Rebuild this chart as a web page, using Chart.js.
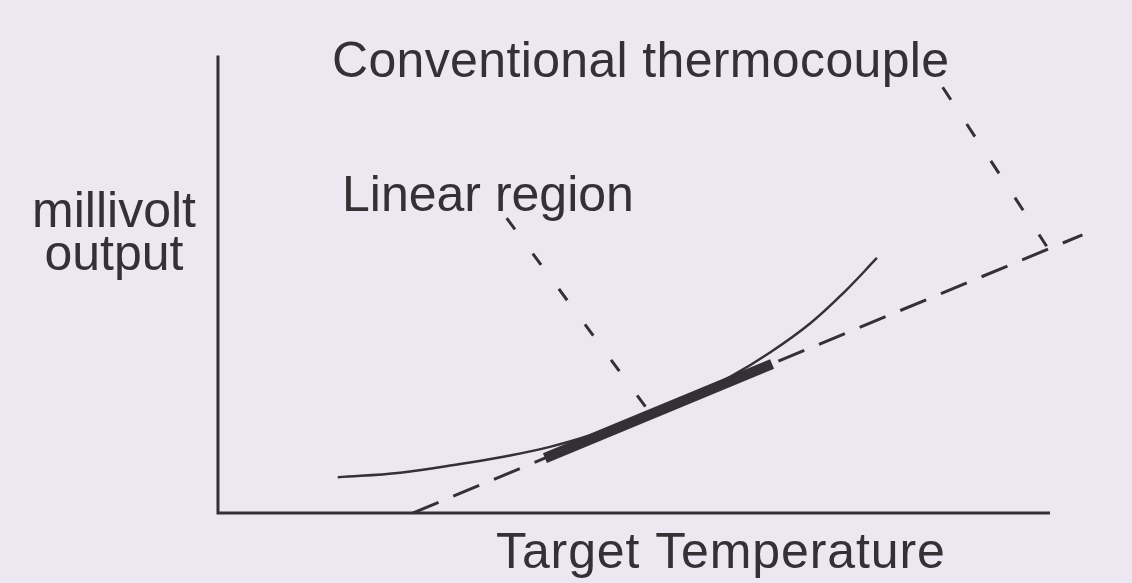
<!DOCTYPE html>
<html>
<head>
<meta charset="utf-8">
<script src="https://cdn.jsdelivr.net/npm/chart.js@4/dist/chart.umd.min.js"></script>
<style>
  html, body { margin: 0; padding: 0; background: #ede7f2; }
  #wrap { position: relative; width: 1132px; height: 583px; }
</style>
</head>
<body>
<div id="wrap"><canvas id="chart"></canvas></div>
<script>
// temperature (x) and millivolt output (y), arbitrary 0-100 units
const axisTemp = [0, 0, 100];
const axisMv = [101, 0, 0];

const curveTemp = [14.4, 21.9, 29.1, 35.1, 39.9, 44.7, 50.7, 56.7, 61.5, 66.4, 71.2, 75.4, 79.2];
const curveMv = [7.9, 8.9, 10.8, 12.7, 14.6, 17.1, 20.9, 25.6, 30.0, 35.5, 41.9, 49.0, 56.3];

const tangentTemp = [23.4, 103.9];
const tangentMv = [0, 61.4];

const linearTemp = [39.3, 66.6];
const linearMv = [12.1, 32.9];

const leaderLinearTemp = [34.7, 51.7];
const leaderLinearMv = [65.1, 22.7];

const leaderConvTemp = [87.1, 99.6];
const leaderConvMv = [94.0, 58.9];

const labelConv = 'Conventional thermocouple';
const labelLinear = 'Linear region';
const labelY = ['millivolt', 'output'];
const labelX = 'Target Temperature';

const ink = '#333135';
const pts = (xs, ys) => xs.map((x, i) => ({ x: x, y: ys[i] }));

const line = (data, opts) => Object.assign({
  data: data,
  showLine: true,
  borderColor: ink,
  borderWidth: 3,
  pointRadius: 0,
  fill: false,
  tension: 0
}, opts);

const textPlugin = {
  id: 'labels',
  afterDraw(chart) {
    const ctx = chart.ctx;
    ctx.save();
    ctx.fillStyle = ink;
    ctx.font = '50px "Liberation Sans", Arial, sans-serif';
    ctx.textBaseline = 'alphabetic';
    ctx.textAlign = 'left';
    ctx.letterSpacing = '0.35px';
    ctx.fillText(labelConv, 332, 77);
    ctx.letterSpacing = '0px';
    ctx.fillText(labelLinear, 342, 211);
    ctx.letterSpacing = '0.9px';
    ctx.fillText(labelX, 496, 568);
    ctx.letterSpacing = '0px';
    ctx.textAlign = 'center';
    ctx.fillText(labelY[0], 114, 227);
    ctx.fillText(labelY[1], 114, 270);
    ctx.restore();
  }
};

new Chart(document.getElementById('chart').getContext('2d'), {
  type: 'scatter',
  data: {
    datasets: [
      line(pts(linearTemp, linearMv), { borderWidth: 10.5, borderCapStyle: 'butt' }),
      line(pts(axisTemp, axisMv), { borderJoinStyle: 'miter' }),
      line(pts(curveTemp, curveMv), { borderWidth: 2.5, tension: 0.4 }),
      line(pts(tangentTemp, tangentMv), { borderDash: [28, 16] }),
      line(pts(leaderLinearTemp, leaderLinearMv), { borderDash: [14, 30] }),
      line(pts(leaderConvTemp, leaderConvMv), { borderDash: [15, 29] })
    ]
  },
  options: {
    responsive: true,
    maintainAspectRatio: false,
    animation: false,
    layout: { padding: 0 },
    scales: {
      x: { type: 'linear', min: -26.2, max: 109.86, display: false },
      y: { type: 'linear', min: -15.45, max: 113.25, display: false }
    },
    plugins: {
      legend: { display: false },
      tooltip: { enabled: false }
    }
  },
  plugins: [textPlugin]
});
</script>
</body>
</html>
